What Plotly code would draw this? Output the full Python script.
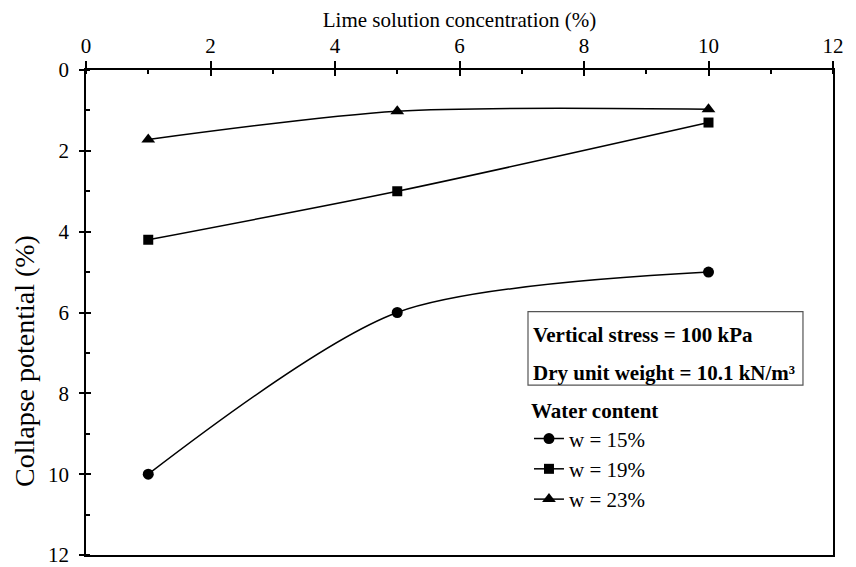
import plotly.graph_objects as go

# Data
conc = [1, 5, 10]
w15 = [10.0, 6.0, 5.0]
w19 = [4.2, 3.0, 1.3]
w23 = [1.72, 1.02, 0.97]
series_names = ["w = 15%", "w = 19%", "w = 23%"]
symbols = ["circle", "square", "triangle-up"]
x_ticks = [0, 2, 4, 6, 8, 10, 12]
y_ticks = [0, 2, 4, 6, 8, 10, 12]

FONT = "Liberation Serif"
FS = 21

fig = go.Figure()
for name, vals, sym, msize in zip(series_names, [w15, w19, w23], symbols, [11, 10, 12]):
    fig.add_trace(go.Scatter(
        x=conc, y=vals, name=name, mode="lines+markers",
        line=dict(color="black", width=1.5, shape="spline", smoothing=0.8),
        marker=dict(symbol=sym, size=msize, color="black"),
    ))

# empty trace to host the overlay axes (inner half of the crossing ticks)
fig.add_trace(go.Scatter(x=[], y=[], xaxis="x2", yaxis="y2", showlegend=False, hoverinfo="skip"))

fig.update_layout(
    width=856, height=567,
    margin=dict(l=86, r=23, t=70, b=12),
    paper_bgcolor="white", plot_bgcolor="white",
    font=dict(family=FONT, size=FS, color="black"),
    showlegend=True,
    legend=dict(
        x=0.593, y=0.338, xanchor="left", yanchor="top",
        bgcolor="rgba(0,0,0,0)", borderwidth=0,
        title=dict(text="<b>Water content</b>", font=dict(size=FS)),
        font=dict(size=FS), tracegroupgap=0, itemwidth=30,
    ),
    xaxis=dict(
        side="top", range=[0, 12], tickmode="array", tickvals=x_ticks,
        showgrid=False, zeroline=False, automargin=False,
        showline=True, linecolor="black", linewidth=1.5, mirror=True,
        ticks="outside", ticklen=7, tickwidth=1.5, tickcolor="black",
        minor=dict(dtick=1, tick0=0, ticks="inside", ticklen=4, tickwidth=1.5, tickcolor="black", showgrid=False),
        title=dict(text="Lime solution concentration (%)", font=dict(size=FS), standoff=0),
        tickfont=dict(size=FS), ticklabeloverflow="allow",
    ),
    yaxis=dict(
        range=[12, 0], tickmode="array", tickvals=y_ticks,
        showgrid=False, zeroline=False, automargin=False,
        showline=True, linecolor="black", linewidth=1.5, mirror=True,
        ticks="outside", ticklen=5, tickwidth=1.5, tickcolor="black",
        minor=dict(dtick=1, tick0=0, ticks="inside", ticklen=4, tickwidth=1.5, tickcolor="black", showgrid=False),
        tickfont=dict(size=FS), ticklabelstandoff=6, ticklabeloverflow="allow",
    ),
    xaxis2=dict(
        overlaying="x", side="top", anchor="y2", range=[0, 12], tickmode="array", tickvals=x_ticks,
        showgrid=False, zeroline=False, showline=False, showticklabels=False, automargin=False,
        ticks="inside", ticklen=6, tickwidth=1.5, tickcolor="black",
    ),
    yaxis2=dict(
        overlaying="y", side="left", anchor="x2", range=[12, 0], tickmode="array", tickvals=y_ticks,
        showgrid=False, zeroline=False, showline=False, showticklabels=False, automargin=False,
        ticks="inside", ticklen=5, tickwidth=1.5, tickcolor="black",
    ),
)

# y-axis title as an annotation (placed below plot centre as in the reference)
fig.add_annotation(xref="paper", yref="paper", x=-0.083, y=0.40,
                   xanchor="center", yanchor="middle", showarrow=False, textangle=-90,
                   text="Collapse potential (%)", font=dict(size=28))

# Info box
fig.add_shape(type="rect", xref="paper", yref="paper",
              x0=0.5917, x1=0.9598, y0=0.3504, y1=0.502,
              line=dict(color="#555555", width=1.2), fillcolor="rgba(0,0,0,0)")
fig.add_annotation(xref="paper", yref="paper", x=0.5957, y=0.4529,
                   xanchor="left", yanchor="middle", showarrow=False,
                   text="<b>Vertical stress = 100 kPa</b>", font=dict(size=FS))
fig.add_annotation(xref="paper", yref="paper", x=0.5957, y=0.375,
                   xanchor="left", yanchor="middle", showarrow=False,
                   text="<b>Dry unit weight = 10.1 kN/m³</b>", font=dict(size=FS))

fig.write_html("out.html")
